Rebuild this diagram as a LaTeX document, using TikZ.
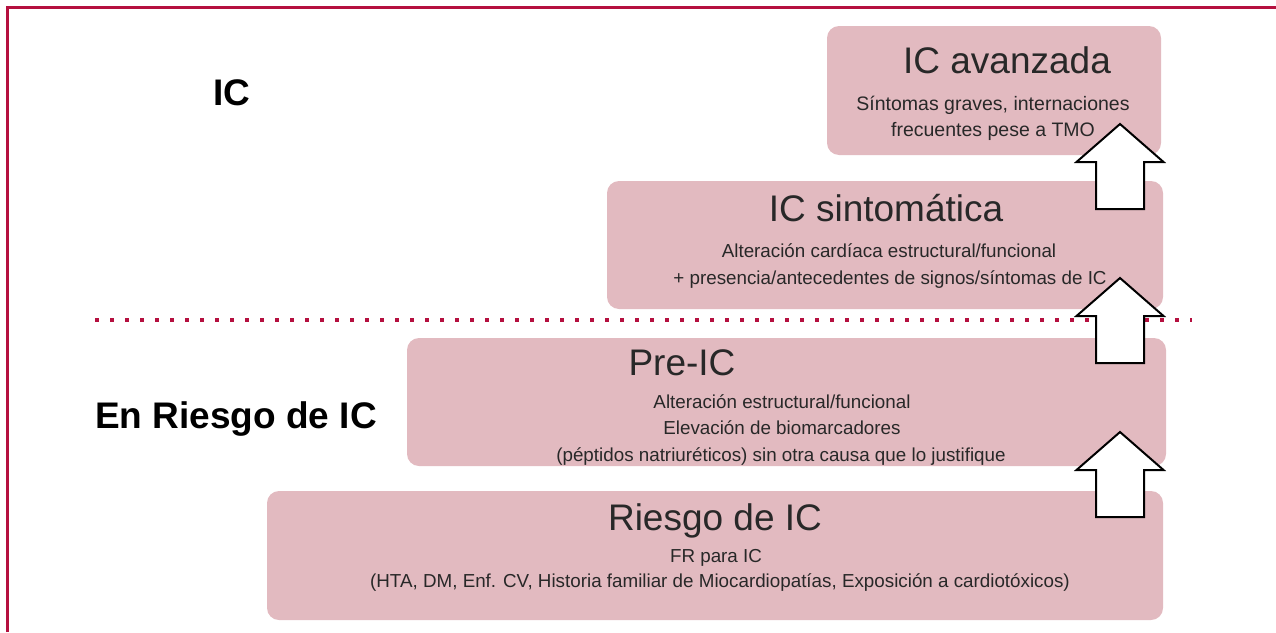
\documentclass[tikz,border=0pt]{standalone}
\usepackage{fontspec}
\setmainfont{Liberation Sans}
\definecolor{boxpink}{RGB}{226,186,192}
\definecolor{frame}{RGB}{181,16,63}
\definecolor{txt}{RGB}{40,40,40}
\begin{document}
\begin{tikzpicture}[x=1pt,y=-1pt,
  stage/.style={fill=boxpink,draw=none,rounded corners=12pt},
  ttl/.style={font=\fontsize{37}{44}\selectfont,text=txt,inner sep=0pt,anchor=base},
  sub/.style={font=\fontsize{18.8}{26}\selectfont,text=txt,inner sep=0pt,anchor=base,align=center},
  subb/.style={sub,font=\fontsize{19.5}{26}\selectfont},
  lvl/.style={font=\fontsize{37}{44}\selectfont\bfseries,text=black,inner sep=0pt,anchor=base west},
  uparrow/.style={fill=white,draw=black,line width=2pt,line join=miter}]
\useasboundingbox (0,0) rectangle (1276,632);
\draw[frame,line width=3pt] (7,632) -- (7,7) -- (1276,7);
% boxes
\fill[stage] (827,26) rectangle (1161,155);
\fill[stage] (607,181) rectangle (1163,309);
\fill[stage] (407,338) rectangle (1166,466);
\fill[stage] (267,491) rectangle (1163,620);
% dotted separator
\coordinate (dl) at (95,320);
\coordinate (dr) at (1192,320);
\draw[frame,line width=4pt,dash pattern=on 4pt off 11pt] (dl) -- (dr);
% level labels
\node[lvl] (lic) at (213,105) {IC};
\node[lvl] (lrisk) at (95,428) {En Riesgo de IC};
% texts
\node[ttl] (t1) at (1007,73) {IC avanzada};
\node[subb] (s1a) at (993,110) {Síntomas graves, internaciones};
\node[subb] (s1b) at (993,136) {frecuentes pese a TMO};
\node[ttl] (t2) at (886,221) {IC sintomática};
\node[sub] (s2a) at (889,257) {Alteración cardíaca estructural/funcional};
\node[sub] (s2b) at (890,284) {+ presencia/antecedentes de signos/síntomas de IC};
\node[ttl] (t3) at (682,375) {Pre-IC};
\node[sub] (s3a) at (782,408) {Alteración estructural/funcional};
\node[sub] (s3b) at (782,434) {Elevación de biomarcadores};
\node[sub] (s3c) at (781,461) {(péptidos natriuréticos) sin otra causa que lo justifique};
\node[ttl] (t4) at (715,530) {Riesgo de IC};
\node[sub] (s4a) at (716,562) {FR para IC};
\node[sub] (s4b) at (720,587) {(HTA, DM, Enf. CV, Historia familiar de Miocardiopatías, Exposición a cardiotóxicos)};
% arrows
\foreach \ty in {124,278,432}{
  \draw[uparrow] (1120,\ty) -- (1163.5,\ty+38) -- (1144,\ty+38) -- (1144,\ty+85)
    -- (1096,\ty+85) -- (1096,\ty+38) -- (1076.5,\ty+38) -- cycle;
}
\end{tikzpicture}
\end{document}
